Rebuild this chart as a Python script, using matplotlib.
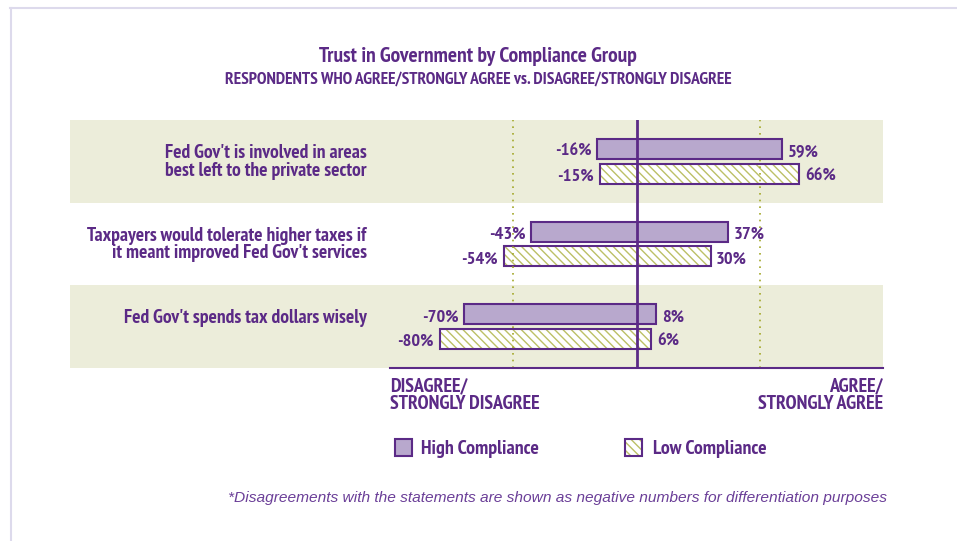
import numpy as np
import matplotlib
matplotlib.use("Agg")
import matplotlib.pyplot as plt
from matplotlib.patches import Rectangle
from matplotlib.lines import Line2D

plt.rcParams['font.family'] = ['PT Sans Narrow', 'DejaVu Sans']
plt.rcParams['hatch.linewidth'] = 1.0

statements = ["Fed Gov't is involved in areas\nbest left to the private sector",
              "Taxpayers would tolerate higher taxes if\nit meant improved Fed Gov't services",
              "Fed Gov't spends tax dollars wisely"]
high_disagree = [-16, -43, -70]
high_agree = [59, 37, 8]
low_disagree = [-15, -54, -80]
low_agree = [66, 30, 6]
groups = ["High Compliance", "Low Compliance"]

PURPLE = '#5b2a86'
LAVENDER = '#b8a8cd'
OLIVE = '#a3a82a'
HATCH = '#bcc066'
BAND = '#ecedda'

fig = plt.figure(figsize=(9.57, 5.41), dpi=100)
W, H = 957.0, 541.0

# thin frame on top and left edge
fig.add_artist(Line2D([10 / W, 1], [1 - 7.5 / H] * 2, transform=fig.transFigure,
                      color='#dddaec', lw=1.5))
fig.add_artist(Line2D([10.5 / W] * 2, [0, 1 - 7.5 / H], transform=fig.transFigure,
                      color='#dddaec', lw=1.5))

fig.text(478 / W, 1 - 57 / H, "Trust in Government by Compliance Group", ha='center',
         va='center', fontsize=15.5, fontweight='bold', color=PURPLE)
fig.text(478 / W, 1 - 79.5 / H,
         "RESPONDENTS WHO AGREE/STRONGLY AGREE vs. DISAGREE/STRONGLY DISAGREE",
         ha='center', va='center', fontsize=12.5, fontweight='bold', color=PURPLE)

ax = fig.add_axes([70 / W, 1 - 368 / H, 813 / W, 248 / H])
ax.set_xlim(-230, 100)
ax.set_ylim(2.5, -0.5)
ax.axis('off')

rows = np.arange(len(statements))
bh = 0.242
off = 0.15

# shaded bands behind the first and last statement
for r in rows:
    if r % 2 == 0:
        ax.axhspan(r - 0.5, r + 0.5, color=BAND, lw=0, zorder=0)

# low compliance: hatched, open bars
low_w = np.array(low_agree) - np.array(low_disagree)
ax.barh(rows + off, low_w, left=low_disagree, height=bh, facecolor='white',
        edgecolor=HATCH, hatch='\\\\\\\\', lw=0, zorder=1)
ax.barh(rows + off, low_w, left=low_disagree, height=bh, facecolor='none',
        edgecolor=PURPLE, lw=1.5, zorder=2)

# reference lines at +/-50%
for xv in (-50, 50):
    ax.axvline(xv, color=OLIVE, lw=1.2, ls=(0, (1, 3)), zorder=3)

# high compliance: solid bars
high_w = np.array(high_agree) - np.array(high_disagree)
ax.barh(rows - off, high_w, left=high_disagree, height=bh, facecolor=LAVENDER,
        edgecolor=PURPLE, lw=1.5, zorder=4)

ax.axvline(0, color=PURPLE, lw=2, zorder=5)
ax.plot([-100, 100], [2.5, 2.5], color=PURPLE, lw=1.5, clip_on=False, zorder=5)

lbl = dict(textcoords='offset points', va='center_baseline', fontsize=13.2,
           fontweight='bold', color=PURPLE)
for y, lo, hi in zip(rows - off, high_disagree, high_agree):
    ax.annotate(f"{lo}%", (lo, y), xytext=(-4, -0.7), ha='right', **lbl)
    ax.annotate(f"{hi}%", (hi, y), xytext=(4, -0.7), ha='left', **lbl)
for y, lo, hi in zip(rows + off, low_disagree, low_agree):
    ax.annotate(f"{lo}%", (lo, y), xytext=(-4, -0.7), ha='right', **lbl)
    ax.annotate(f"{hi}%", (hi, y), xytext=(4, -0.7), ha='left', **lbl)

for r, s in zip(rows, statements):
    ax.text(-109.5, r - off - bh / 2 + 0.06, s, ha='right', va='top', fontsize=14,
            fontweight='bold', color=PURPLE, linespacing=0.98)

ax.annotate("DISAGREE/\nSTRONGLY DISAGREE", (-100, 2.5), xytext=(0, -7),
            textcoords='offset points', ha='left', va='top', fontsize=14.3,
            fontweight='bold', color=PURPLE, linespacing=0.95)
ax.annotate("AGREE/\nSTRONGLY AGREE", (100, 2.5), xytext=(0, -7),
            textcoords='offset points', ha='right', va='top', fontsize=14.3,
            fontweight='bold', color=PURPLE, multialignment='right', linespacing=0.95)

# legend squares
sq = 17
hx, lx, ly = 395, 625, 439
fig.add_artist(Rectangle((hx / W, 1 - (ly + sq) / H), sq / W, sq / H, transform=fig.transFigure,
                         facecolor=LAVENDER, edgecolor=PURPLE, lw=1.5))
fig.add_artist(Rectangle((lx / W, 1 - (ly + sq) / H), sq / W, sq / H, transform=fig.transFigure,
                         facecolor='white', edgecolor=HATCH, hatch='\\\\\\\\', lw=0))
fig.add_artist(Rectangle((lx / W, 1 - (ly + sq) / H), sq / W, sq / H, transform=fig.transFigure,
                         facecolor='none', edgecolor=PURPLE, lw=1.5))
fig.text((hx + sq + 9) / W, 1 - (ly + sq / 2) / H, groups[0], ha='left', va='center_baseline',
         fontsize=14.3, fontweight='bold', color=PURPLE)
fig.text((lx + sq + 11) / W, 1 - (ly + sq / 2) / H, groups[1], ha='left', va='center_baseline',
         fontsize=14.3, fontweight='bold', color=PURPLE)

fig.text(887 / W, 1 - 498 / H,
         "*Disagreements with the statements are shown as negative numbers for differentiation purposes",
         ha='right', va='center', fontsize=11.15, style='italic', color='#6b3f98',
         family=['Liberation Sans', 'DejaVu Sans'])

fig.savefig("out.png", dpi=100)
